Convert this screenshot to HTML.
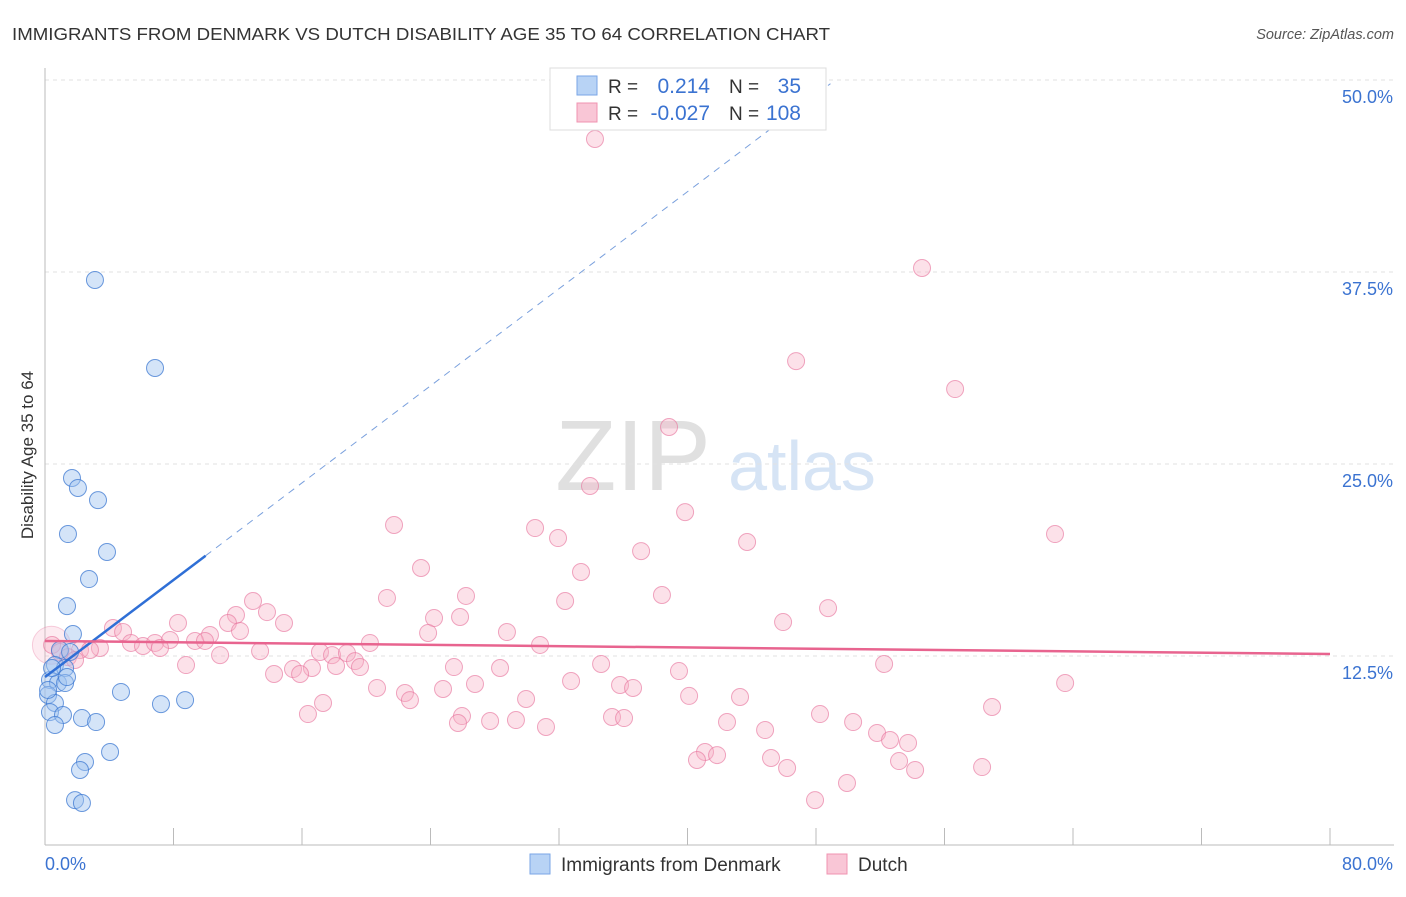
<!DOCTYPE html>
<html><head><meta charset="utf-8"><style>
body{margin:0;background:#fff;font-family:"Liberation Sans",sans-serif}
svg text{font-family:"Liberation Sans",sans-serif}
</style></head><body>
<svg id="chart" width="1406" height="892">
<text x="12" y="40" font-size="17.5" fill="#333" textLength="818" lengthAdjust="spacingAndGlyphs">IMMIGRANTS FROM DENMARK VS DUTCH DISABILITY AGE 35 TO 64 CORRELATION CHART</text>
<text x="1394" y="39" font-size="14.5" fill="#555" font-style="italic" text-anchor="end">Source: ZipAtlas.com</text>
<text x="633" y="490" font-size="100" fill="#e0e0e0" font-family="Liberation Serif" text-anchor="middle">ZIP</text>
<text x="802" y="490" font-size="70" fill="#d6e4f5" text-anchor="middle">atlas</text>
<text transform="translate(33,455) rotate(-90)" font-size="17" fill="#333" text-anchor="middle">Disability Age 35 to 64</text>
<g id="grid"></g><g id="marks"></g><g id="lines"></g>
<g>
<rect x="550" y="68" width="276" height="62" fill="#fff" stroke="#ddd"/>
<rect x="577" y="76" width="20" height="19" fill="#b8d3f5" stroke="#7aa6e6"/>
<rect x="577" y="103" width="20" height="19" fill="#f9c6d6" stroke="#f093b0"/>
<text x="608" y="93" font-size="19" fill="#333">R =</text><text x="710" y="93" font-size="21" fill="#3b73d1" text-anchor="end">0.214</text>
<text x="729" y="93" font-size="19" fill="#333">N =</text><text x="801" y="93" font-size="21" fill="#3b73d1" text-anchor="end">35</text>
<text x="608" y="120" font-size="19" fill="#333">R =</text><text x="710" y="120" font-size="21" fill="#3b73d1" text-anchor="end">-0.027</text>
<text x="729" y="120" font-size="19" fill="#333">N =</text><text x="801" y="120" font-size="21" fill="#3b73d1" text-anchor="end">108</text>
</g>
<g>
<rect x="530" y="854" width="20" height="20" fill="#b8d3f5" stroke="#7aa6e6"/>
<text x="561" y="871" font-size="19" fill="#333">Immigrants from Denmark</text>
<rect x="827" y="854" width="20" height="20" fill="#f9c6d6" stroke="#f093b0"/>
<text x="858" y="871" font-size="19" fill="#333">Dutch</text>
</g>
</svg>
<script>
const yTicks=[12.5,25,37.5,50];
const yTickLabels=["12.5%","25.0%","37.5%","50.0%"];
const xEndLabels=["0.0%","80.0%"];
const denmarkX=[3.11,6.85,1.68,2.05,3.30,1.43,3.86,2.74,1.37,1.74,0.93,0.62,1.25,0.31,0.81,1.25,0.19,0.62,0.31,1.12,0.62,2.30,3.18,4.73,7.22,8.72,4.05,2.49,2.18,1.87,2.30,1.37,0.44,1.56,0.19];
const denmarkY=[36.98,31.25,24.09,23.44,22.65,20.44,19.27,17.51,15.75,13.93,12.89,11.91,11.72,10.94,10.74,10.74,9.96,9.44,8.85,8.66,8.01,8.46,8.20,10.16,9.37,9.63,6.25,5.60,5.08,3.12,2.93,11.13,11.72,12.76,10.29];
const dutchX=[34.24,54.60,46.76,56.66,38.85,33.93,39.85,21.73,30.51,31.94,62.88,43.71,37.11,23.41,33.37,21.29,26.21,32.38,38.41,12.95,13.82,11.89,48.75,8.28,11.39,14.88,24.22,25.84,45.95,4.23,4.86,10.27,12.14,23.85,28.76,5.35,6.10,6.85,7.78,9.34,9.96,20.23,30.82,3.42,2.18,2.80,7.16,13.39,0.44,10.90,17.12,17.87,18.80,19.30,8.78,15.44,16.62,18.12,19.61,25.46,28.33,34.62,39.47,52.24,14.26,15.88,32.75,35.80,36.61,20.67,24.78,26.77,22.41,22.72,29.95,40.10,43.27,63.51,17.31,16.37,25.96,27.71,25.71,29.32,31.19,35.30,36.05,42.46,48.25,50.31,58.96,51.80,44.83,52.61,53.73,41.09,41.84,40.59,45.20,53.17,46.20,54.17,58.34,49.93,47.94,0.93,1.43,1.87];
const dutchY=[46.16,37.76,31.70,29.88,27.41,23.57,21.87,21.03,20.83,20.18,20.44,19.92,19.33,18.23,17.97,16.28,16.41,16.08,16.47,16.08,15.36,15.17,15.62,14.65,14.65,14.65,14.97,15.04,14.71,14.32,14.06,13.87,14.13,14.00,14.06,13.35,13.15,13.35,13.54,13.48,13.48,13.35,13.22,13.02,12.89,12.89,13.02,12.82,13.22,12.56,12.76,12.56,12.69,12.17,11.91,11.65,11.72,11.85,11.78,11.78,11.72,11.98,11.52,11.98,11.33,11.33,10.87,10.61,10.42,10.42,10.35,10.68,10.09,9.63,9.70,9.90,9.83,10.74,9.44,8.72,8.59,8.27,8.14,8.33,7.88,8.53,8.46,8.20,8.72,8.20,9.18,7.49,7.68,7.03,6.84,6.25,6.05,5.73,5.86,5.66,5.21,5.08,5.27,4.23,3.12,12.76,12.43,12.24];
const denmarkTrend=[11.13,0.79];
const dutchTrend=[13.48,-0.0106];
const NS='http://www.w3.org/2000/svg';
const X=v=>45+v*1285/80, Y=v=>848-v*768/50;
function mk(tag,attrs,parent){const e=document.createElementNS(NS,tag);for(const k in attrs)e.setAttribute(k,attrs[k]);parent.appendChild(e);return e;}
const grid=document.getElementById('grid'),marks=document.getElementById('marks'),lines=document.getElementById('lines');
yTicks.forEach((t,i)=>{
 const l=mk('line',{x1:45,x2:1394,y1:Y(t),y2:Y(t),stroke:'#e2e2e2','stroke-dasharray':'4,4'},grid);
 
 
 const tx=mk('text',{x:1393,y:Y(t)+23,'font-size':18,fill:'#3b73d1','text-anchor':'end'},grid);tx.textContent=yTickLabels[i];
 
 
});
const ax=mk('line',{x1:45,x2:45,y1:68,y2:845,stroke:'#bbb'},grid);


const bx=mk('line',{x1:45,x2:1394,y1:845,y2:845,stroke:'#bbb'},grid);


for(let i=0;i<=10;i++){const tk=mk('line',{x1:X(i*8),x2:X(i*8),y1:828,y2:845,stroke:'#bbb'},grid);
 
 }
[[0,45,'start'],[80,1393,'end']].forEach((a,i)=>{const t=mk('text',{x:a[1],y:870,'font-size':18,fill:'#3b73d1','text-anchor':a[2]},grid);t.textContent=xEndLabels[i];
 
 });
const big=mk('circle',{cx:X(0.4),cy:Y(13.2),r:19,fill:'rgba(246,175,198,0.25)',stroke:'rgba(232,120,160,0.35)'},marks);


dutchX.forEach((v,i)=>{const c=mk('circle',{cx:X(v),cy:Y(dutchY[i]),r:8.5,fill:'rgba(246,175,198,0.38)',stroke:'rgba(232,120,160,0.65)'},marks);
 
 });
denmarkX.forEach((v,i)=>{const c=mk('circle',{cx:X(v),cy:Y(denmarkY[i]),r:8.5,fill:'rgba(160,195,240,0.45)',stroke:'rgba(60,120,210,0.75)'},marks);
 
 });
const bf=x=>denmarkTrend[0]+denmarkTrend[1]*x, pf=x=>dutchTrend[0]+dutchTrend[1]*x;
const l1=mk('line',{x1:X(0),y1:Y(bf(0)),x2:X(10),y2:Y(bf(10)),stroke:'#2f6fd6','stroke-width':2.5},lines);


const l2=mk('line',{x1:X(10),y1:Y(bf(10)),x2:X(48.9),y2:Y(bf(48.9)),stroke:'#7aa0dd','stroke-width':1,'stroke-dasharray':'7,6'},lines);


const l3=mk('line',{x1:X(0),y1:Y(pf(0)),x2:X(80),y2:Y(pf(80)),stroke:'#e8648f','stroke-width':2.5},lines);


</script>
</body></html>
